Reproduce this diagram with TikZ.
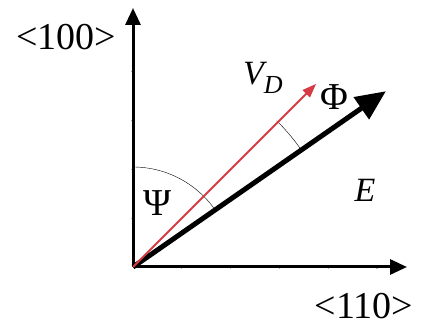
\documentclass[tikz,border=0pt]{standalone}
\usepackage{fontspec}
\setmainfont{Liberation Serif}
\usepackage{tikz}
\usetikzlibrary{arrows.meta,calc}
\definecolor{vdred}{RGB}{214,58,68}
\tikzset{
  axis/.style={line width=3pt,-{Triangle[length=17pt,width=15pt]}},
  tick/.style={gray!60,line width=1.2pt},
  big/.style={font=\fontsize{38}{38}\selectfont,inner sep=0pt},
  greek/.style={font=\fontsize{38}{38}\selectfont,inner sep=0pt},
  ital/.style={font=\fontsize{34}{34}\selectfont\itshape,inner sep=0pt}
}
\begin{document}
\begin{tikzpicture}[x=1pt,y=1pt]
				\useasboundingbox (0,0) rectangle (422,328);
				\coordinate (O) at (133,61);
				\coordinate (ytip) at (133,320);
				\coordinate (xtip) at (407,61);
				\coordinate (Etip) at ($(O)+(34.8:308)$);
				\coordinate (Vtip) at ($(O)+(45:259)$);
				
				% ticks on both axes
				\foreach \k in {1,...,4}
					\draw[tick] ($(O)+(-2,48.8*\k)$) -- ++(4,0);
				\foreach \k in {1,...,5}
					\draw[tick] ($(O)+(48.8*\k,-2)$) -- ++(0,4);
				
				\draw[axis] (O) -- (ytip);
				\draw[axis] (O) -- (xtip);
				
				% angles
				\draw[thin] ($(O)+(90:100)$) arc[start angle=90,end angle=34.8,radius=100];
				\draw[thin] ($(O)+(45.5:205)$) arc[start angle=45.5,end angle=35,radius=205];
				
				\draw[line width=5pt,-{Triangle[length=30pt,width=26pt]}] (O) -- (Etip);
				\draw[vdred,line width=2pt,-{Triangle[length=14pt,width=10pt]}] (O) -- (Vtip);
				
				\node[big] (dir100) at (66,291) {<100>};
				\node[big] (dir110) at (364,22) {<110>};
				\node[greek] (phi) at (334,231) {Φ};
				\node[greek] (psi) at (158,125) {Ψ};
				\node[ital] (elab) at (365,138) {E};
				\node[ital,anchor=base west] (vd) at (243,243) {V\textsubscript{\fontsize{26}{26}\selectfont D}};
			\end{tikzpicture}
\end{document}
